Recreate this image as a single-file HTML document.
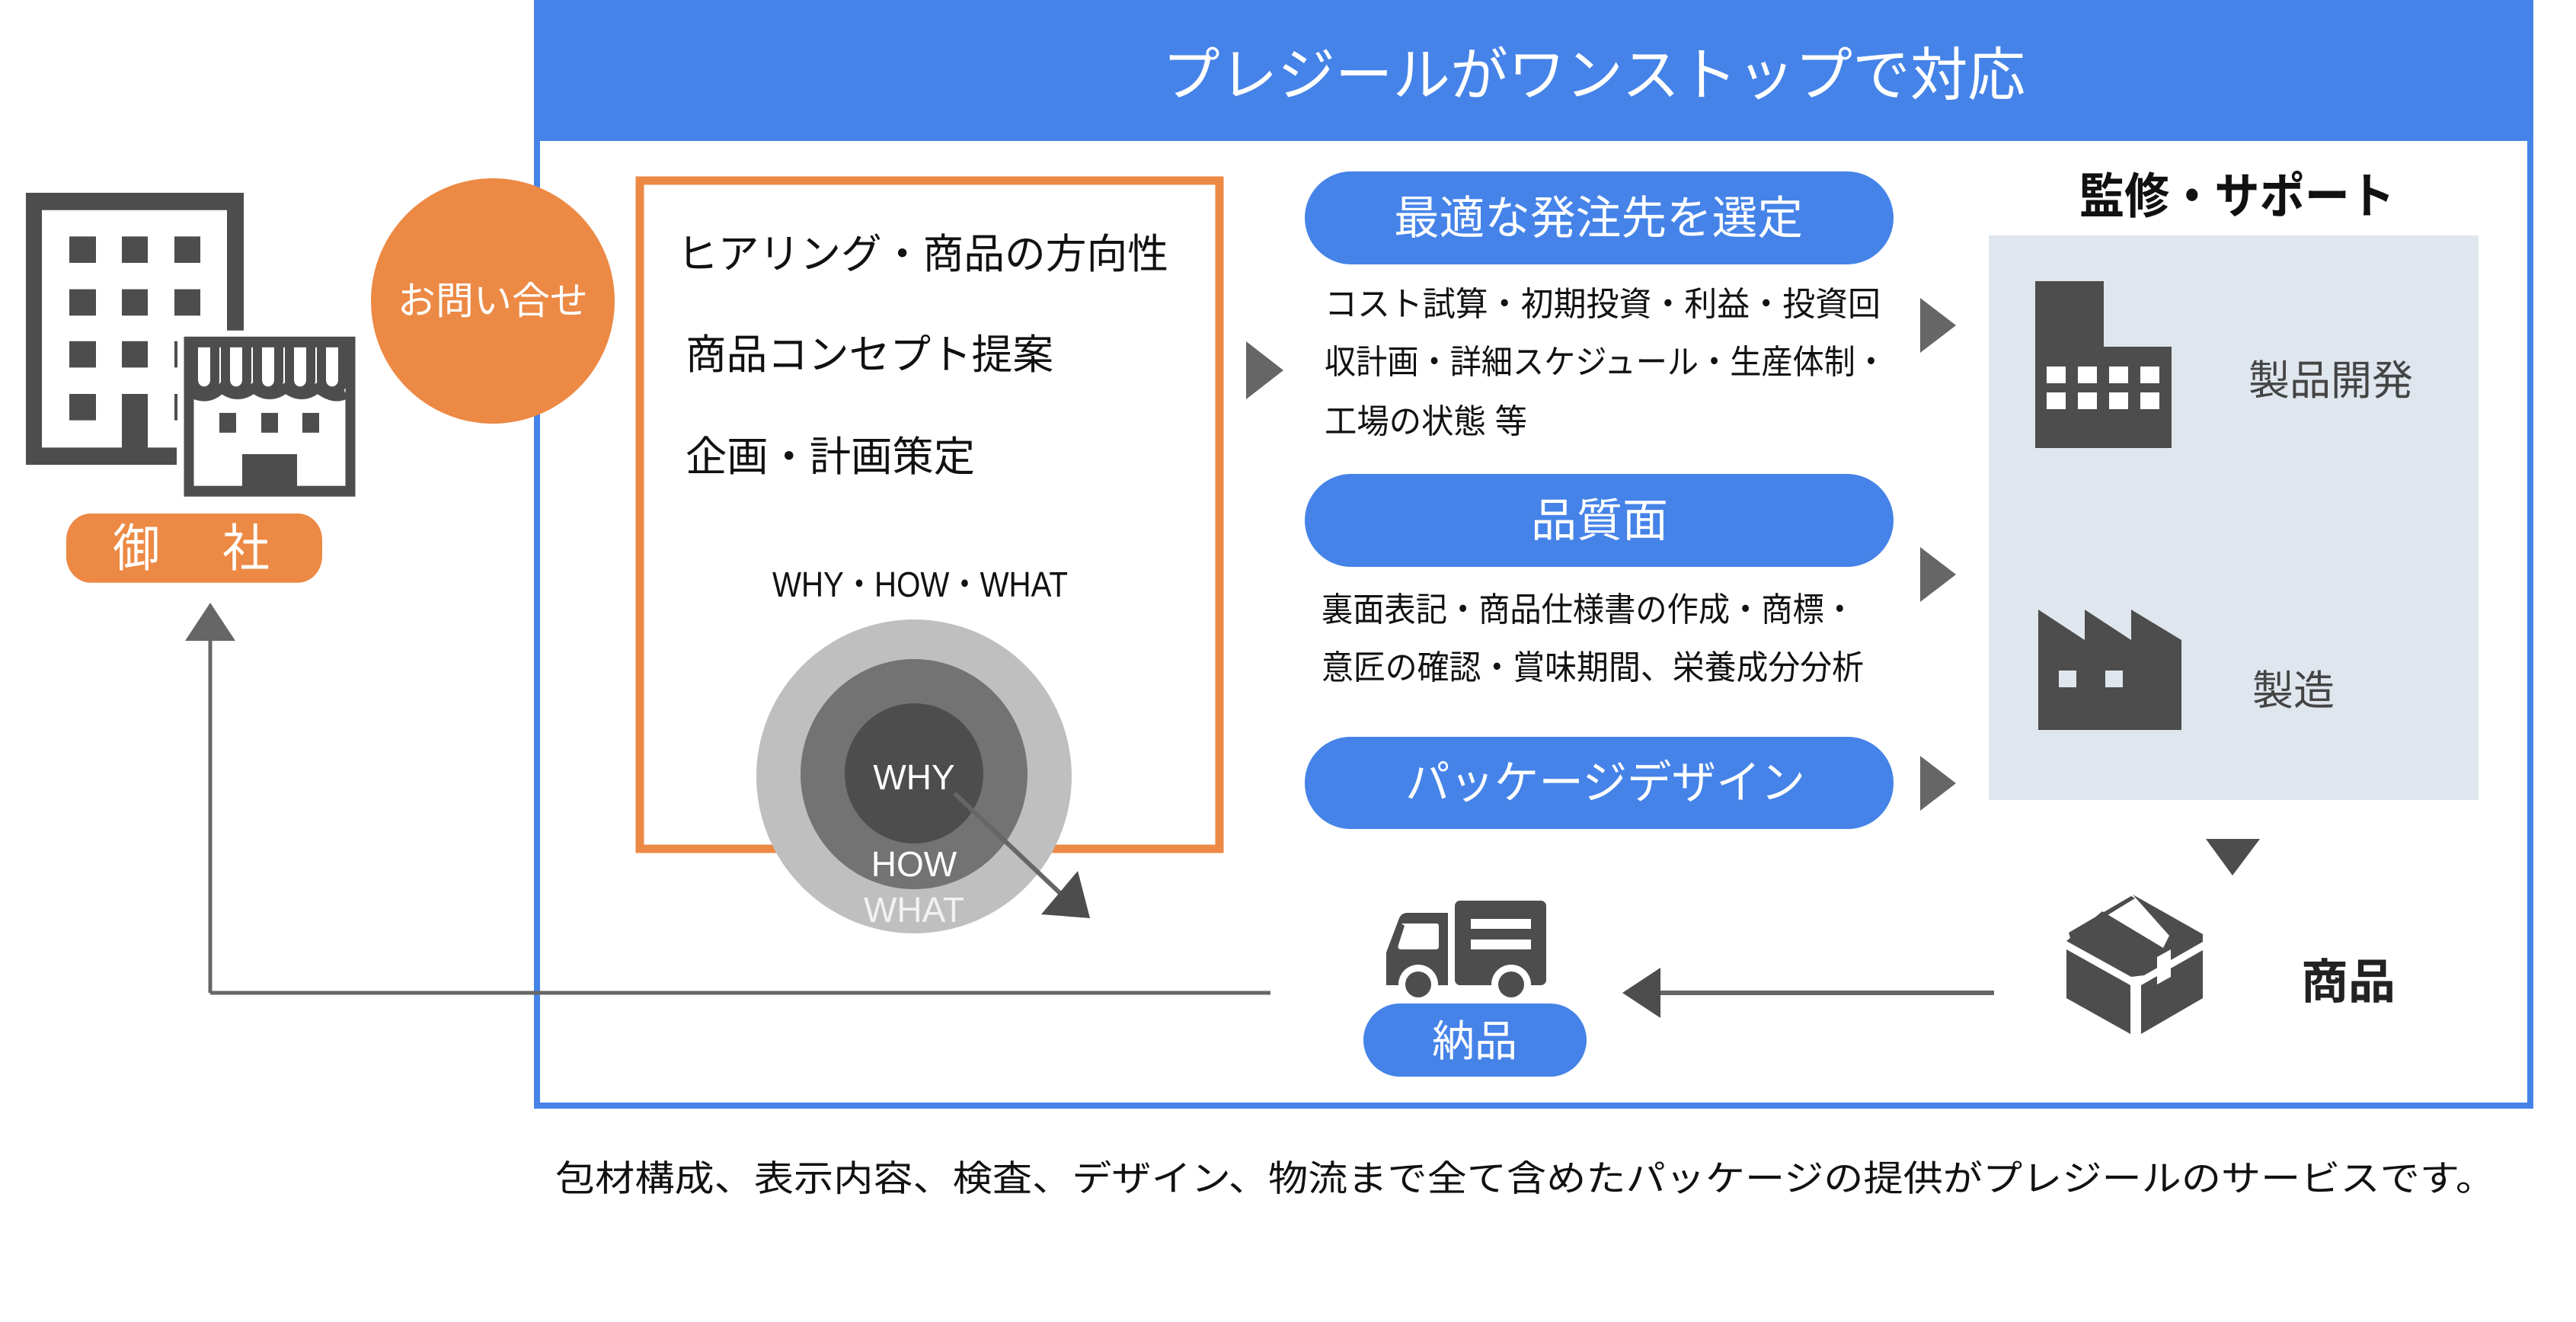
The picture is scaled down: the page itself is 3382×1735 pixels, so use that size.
<!DOCTYPE html>
<html><head><meta charset="utf-8"><style>
html,body{margin:0;padding:0;background:#fff;}
svg{display:block;}
text{font-family:"Liberation Sans","Noto Sans CJK JP",sans-serif;}
.n{font-family:"Liberation Sans Narrow","Liberation Sans","Noto Sans CJK JP",sans-serif;}
</style></head><body>
<svg width="3382" height="1735" viewBox="0 0 3382 1735" xmlns="http://www.w3.org/2000/svg">
<!-- main blue frame -->
<rect x="705" y="0" width="2617" height="1451" fill="none" stroke="#4583e8" stroke-width="8"/>
<rect x="701" y="0" width="2625" height="185" fill="#4583e8"/>
<text x="1526" y="125" font-size="76" fill="#fff" textLength="1133" lengthAdjust="spacingAndGlyphs">プレジールがワンストップで対応</text>

<!-- left building -->
<g transform="translate(0,253) scale(1,1.082) translate(0,-253)">
<g fill="#4d4d4d">
<path d="M34 253H320V420H298V274H55V562H232V583H34Z"/>
<rect x="91" y="306" width="35" height="32"/><rect x="160" y="306" width="34" height="32"/><rect x="229" y="306" width="34" height="32"/>
<rect x="91" y="370" width="35" height="32"/><rect x="160" y="370" width="34" height="32"/><rect x="229" y="370" width="34" height="32"/>
<rect x="91" y="433" width="35" height="32"/><rect x="160" y="433" width="34" height="32"/>
<rect x="91" y="497" width="35" height="32"/><rect x="160" y="497" width="34" height="66"/>
<rect x="229" y="433" width="4" height="32"/><rect x="229" y="497" width="4" height="32"/>
</g>
<rect x="248" y="434" width="212" height="181" fill="#fff" stroke="#4d4d4d" stroke-width="13"/>
<path d="M254 440V480a13 13 0 0 0 28 0V440M296 440V480a13 13 0 0 0 28 0V440M338 440V480a13 13 0 0 0 28 0V440M380 440V480a13 13 0 0 0 28 0V440M422 440V480a13 13 0 0 0 28 0V440" fill="none" stroke="#4d4d4d" stroke-width="12"/>
<path d="M254 497 Q275 505 291 490 Q312 505 333 490 Q354 505 375 490 Q396 505 417 490 Q438 505 454 497" fill="none" stroke="#4d4d4d" stroke-width="12"/>
<rect x="288" y="520" width="22" height="24" fill="#4d4d4d"/><rect x="343" y="520" width="22" height="24" fill="#4d4d4d"/><rect x="397" y="520" width="22" height="24" fill="#4d4d4d"/>
<rect x="318" y="570" width="72" height="42" fill="#4d4d4d"/>
<rect x="87" y="642" width="336" height="84" rx="32" fill="#ec8944"/>
<text x="148" y="706" font-size="62" fill="#fff">御</text><text x="292" y="706" font-size="62" fill="#fff">社</text>
</g>

<!-- up arrow & return line -->
<path d="M276 1303V835M276 1303H1668" fill="none" stroke="#666" stroke-width="5"/>
<polygon points="276,791 243,841 309,841" fill="#666"/>

<!-- inquiry circle -->
<ellipse cx="647" cy="395" rx="160" ry="161" fill="#ec8944"/>
<text x="647" y="412" font-size="50" fill="#fff" text-anchor="middle">お問い合せ</text>

<!-- orange box -->
<rect x="840" y="237" width="761" height="877" fill="#fff" stroke="#ec8944" stroke-width="11"/>
<text x="889" y="352" font-size="54" fill="#111" textLength="645" lengthAdjust="spacingAndGlyphs">ヒアリング・商品の方向性</text>
<text x="900" y="484" font-size="54" fill="#111" textLength="483" lengthAdjust="spacingAndGlyphs">商品コンセプト提案</text>
<text x="900" y="618" font-size="54" fill="#111" textLength="380" lengthAdjust="spacingAndGlyphs">企画・計画策定</text>
<text class="n" x="1014" y="783" font-size="46" fill="#111" textLength="388" lengthAdjust="spacingAndGlyphs">WHY・HOW・WHAT</text>
<ellipse cx="1200" cy="1019" rx="207" ry="206" fill="#bfbfbf"/>
<ellipse cx="1200" cy="1016" rx="149" ry="151" fill="#737373"/>
<ellipse cx="1200" cy="1015" rx="91" ry="92" fill="#4d4d4d"/>
<text class="n" x="1200" y="1036" font-size="46" fill="#fff" text-anchor="middle">WHY</text>
<text class="n" x="1200" y="1150" font-size="46" fill="#fff" text-anchor="middle">HOW</text>
<text class="n" x="1200" y="1210" font-size="46" fill="#f2f2f2" text-anchor="middle">WHAT</text>
<line x1="1253" y1="1041" x2="1400" y2="1180" stroke="#666" stroke-width="6"/>
<polygon points="1415,1143 1367,1200 1431,1205" fill="#4d4d4d"/>

<!-- left triangle -->
<polygon points="1636,448 1685,486 1636,524" fill="#666"/>

<!-- pills & texts -->
<rect x="1713" y="225" width="773" height="122" rx="61" fill="#4583e8"/>
<text x="1830" y="307" font-size="60" fill="#fff" textLength="537" lengthAdjust="spacingAndGlyphs">最適な発注先を選定</text>
<text x="1739" y="414" font-size="44" fill="#111" textLength="730" lengthAdjust="spacingAndGlyphs">コスト試算・初期投資・利益・投資回</text>
<text x="1739" y="490" font-size="44" fill="#111" textLength="738" lengthAdjust="spacingAndGlyphs">収計画・詳細スケジュール・生産体制・</text>
<text x="1739" y="568" font-size="44" fill="#111" textLength="266" lengthAdjust="spacingAndGlyphs">工場の状態 等</text>

<rect x="1713" y="622" width="773" height="122" rx="61" fill="#4583e8"/>
<text x="2100" y="704" font-size="60" fill="#fff" text-anchor="middle">品質面</text>
<text x="1735" y="815" font-size="44" fill="#111" textLength="701" lengthAdjust="spacingAndGlyphs">裏面表記・商品仕様書の作成・商標・</text>
<text x="1735" y="891" font-size="44" fill="#111" textLength="712" lengthAdjust="spacingAndGlyphs">意匠の確認・賞味期間、栄養成分分析</text>

<rect x="1713" y="967" width="773" height="121" rx="60" fill="#4583e8"/>
<text x="1845" y="1048" font-size="60" fill="#fff" textLength="525" lengthAdjust="spacingAndGlyphs">パッケージデザイン</text>

<!-- right triangles -->
<polygon points="2521,391 2568,427 2521,463" fill="#666"/>
<polygon points="2521,718 2568,754 2521,790" fill="#666"/>
<polygon points="2521,992 2568,1028 2521,1064" fill="#666"/>

<!-- support panel -->
<text x="2730" y="280" font-size="64" font-weight="bold" fill="#111" textLength="414" lengthAdjust="spacingAndGlyphs">監修・サポート</text>
<rect x="2611" y="309" width="643" height="741" fill="#dfe6ee"/>
<path d="M2672 369H2762V455H2851V588H2672Z" fill="#4d4d4d"/>
<g fill="#fff">
<rect x="2687" y="481" width="25" height="22"/><rect x="2728" y="481" width="25" height="22"/><rect x="2769" y="481" width="25" height="22"/><rect x="2810" y="481" width="25" height="22"/>
<rect x="2687" y="515" width="25" height="22"/><rect x="2728" y="515" width="25" height="22"/><rect x="2769" y="515" width="25" height="22"/><rect x="2810" y="515" width="25" height="22"/>
</g>
<text x="2952" y="518" font-size="54" fill="#444">製品開発</text>
<polygon points="2676,958 2676,800 2737,840 2737,800 2798,840 2798,800 2864,840 2864,958" fill="#4d4d4d"/>
<rect x="2703" y="880" width="23" height="22" fill="#dfe6ee"/><rect x="2764" y="880" width="23" height="22" fill="#dfe6ee"/>
<text x="2957" y="925" font-size="54" fill="#444">製造</text>

<polygon points="2896,1101 2967,1101 2931,1149" fill="#4d4d4d"/>

<!-- box icon -->
<g fill="#4d4d4d">
<polygon points="2716,1224 2798,1176 2803,1179 2718,1231"/>
<polygon points="2760,1196 2840,1244 2848,1228 2800,1174 2892,1226 2892,1236 2815,1280 2798,1282 2713,1235"/>
<polygon points="2713,1246 2797,1293 2797,1357 2713,1310"/>
<polygon points="2811,1293 2892,1247 2892,1310 2811,1357"/>
</g>
<polygon points="2832,1256 2850,1246 2850,1282 2832,1292" fill="#fff"/>
<text x="3021" y="1310" font-size="62" font-weight="bold" fill="#222">商品</text>

<!-- bottom left arrow -->
<line x1="2618" y1="1303" x2="2175" y2="1303" stroke="#666" stroke-width="6"/>
<polygon points="2130,1303 2180,1270 2180,1336" fill="#4d4d4d"/>

<!-- truck -->
<g fill="#4d4d4d">
<path d="M1820 1250L1837 1205Q1840 1198 1848 1198H1901V1293H1820Z"/>
<rect x="1910" y="1182" width="120" height="111" rx="7"/>
</g>
<path d="M1840 1212H1886Q1889 1212 1889 1216V1242Q1889 1246 1885 1246H1840Q1834 1246 1836 1240L1844 1215Z" fill="#fff"/>
<rect x="1931" y="1206" width="79" height="13" fill="#fff"/><rect x="1931" y="1233" width="79" height="13" fill="#fff"/>
<circle cx="1862" cy="1292" r="26" fill="#fff"/><circle cx="1862" cy="1292" r="17" fill="#4d4d4d"/>
<circle cx="1984" cy="1292" r="26" fill="#fff"/><circle cx="1984" cy="1292" r="17" fill="#4d4d4d"/>
<rect x="1790" y="1317" width="293" height="96" rx="48" fill="#4583e8"/>
<text x="1936" y="1386" font-size="56" fill="#fff" text-anchor="middle">納品</text>

<!-- footer text -->
<text x="729" y="1563" font-size="47" fill="#111" textLength="2547" lengthAdjust="spacingAndGlyphs">包材構成、表示内容、検査、デザイン、物流まで全て含めたパッケージの提供がプレジールのサービスです。</text>
</svg>
</body></html>
